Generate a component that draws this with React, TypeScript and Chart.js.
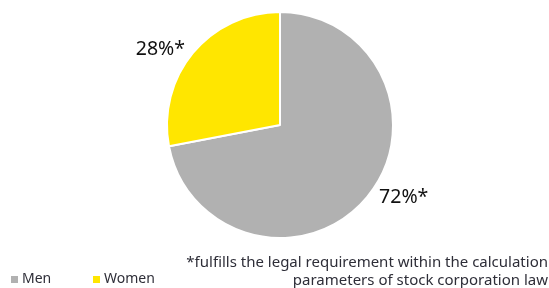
import React, { useEffect, useRef } from "react";
import { Chart, registerables } from "chart.js";

Chart.register(...registerables);

const categories = ["Men", "Women"];
const values = [72, 28];
const valueLabels = ["72%*", "28%*"];
const colors = ["#b1b1b1", "#ffe600"];
const footnoteLines = [
  "*fulfills the legal requirement within the calculation",
  "parameters of stock corporation law",
];

const FONT = "'Noto Sans', sans-serif";
const TEXT = "#2e2e38";

const textPlugin = {
  id: "textPlugin",
  afterDraw(chart: any) {
    const ctx = chart.ctx;
    const meta = chart.getDatasetMeta(0);
    ctx.save();
    // value labels outside slices
    const angleShift = [-0.16, -0.13];
    const radFactor = [1.27, 1.25];
    meta.data.forEach((arc: any, i: number) => {
      const mid = (arc.startAngle + arc.endAngle) / 2 + angleShift[i];
      const r = arc.outerRadius * radFactor[i];
      const x = arc.x + Math.cos(mid) * r;
      const y = arc.y + Math.sin(mid) * r;
      ctx.font = `19.5px ${FONT}`;
      ctx.fillStyle = "#111";
      ctx.textAlign = "center";
      ctx.textBaseline = "middle";
      ctx.fillText(valueLabels[i], x, y);
    });
    // legend
    const legendX = [11, 93];
    const ly = 279;
    categories.forEach((c, i) => {
      ctx.fillStyle = colors[i];
      ctx.fillRect(legendX[i], ly - 3, 7, 7);
      ctx.font = `14px ${FONT}`;
      ctx.fillStyle = TEXT;
      ctx.textAlign = "left";
      ctx.textBaseline = "middle";
      ctx.fillText(c, legendX[i] + 11, ly);
    });
    // footnote
    ctx.font = `15px ${FONT}`;
    ctx.fillStyle = TEXT;
    ctx.textAlign = "right";
    ctx.textBaseline = "middle";
    footnoteLines.forEach((l, i) => {
      ctx.fillText(l, 548, 263 + i * 18);
    });
    ctx.restore();
  },
};

export default function App() {
  const ref = useRef<HTMLCanvasElement>(null);
  useEffect(() => {
    if (!ref.current) return;
    const chart = new Chart(ref.current, {
      type: "pie",
      data: {
        labels: categories,
        datasets: [
          {
            data: values,
            backgroundColor: colors,
            borderColor: "#ffffff",
            borderWidth: 2,
          },
        ],
      },
      options: {
        animation: false,
        responsive: false,
        events: [],
        layout: { padding: { top: 11, bottom: 49, left: 166, right: 155 } },
        plugins: {
          legend: { display: false },
          tooltip: { enabled: false },
        },
      },
      plugins: [textPlugin],
    });
    return () => chart.destroy();
  }, []);
  return (
    <div style={{ position: "absolute", left: 0, top: 0, width: 549, height: 288, background: "#fff" }}>
      <canvas ref={ref} width={549} height={288} style={{ display: "block" }} />
    </div>
  );
}
